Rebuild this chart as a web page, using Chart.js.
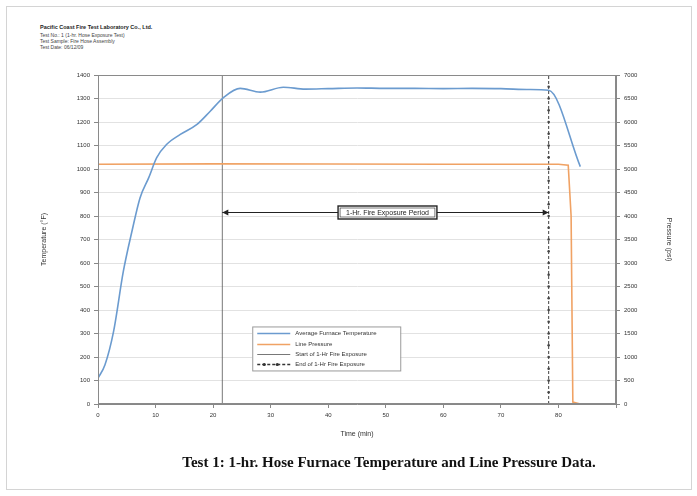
<!DOCTYPE html>
<html>
<head>
<meta charset="utf-8">
<script src="https://cdn.jsdelivr.net/npm/chart.js@4"></script>
<style>
  body { margin: 0; background: #fff; font-family: "Liberation Sans", Arial, sans-serif; }
  #wrap { position: relative; width: 697px; height: 496px; overflow: hidden; }
  #frame { position: absolute; left: 6px; top: 6px; width: 684px; height: 482px; border: 1px solid #d4d4d4; }
  #chart { position: absolute; left: 0; top: 0; }
  .hdr { position: absolute; left: 40px; font-size: 5px; color: #444; white-space: nowrap; }
  #caption { position: absolute; left: 0; width: 778px; top: 454px; text-align: center;
             font-family: "Liberation Serif", "Times New Roman", serif; font-weight: bold; font-size: 15px; color: #111; }
</style>
</head>
<body>
<div id="wrap">
  <div id="frame"></div>
  <div class="hdr" style="top:24px;font-weight:bold;font-size:5.5px;color:#222">Pacific Coast Fire Test Laboratory Co., Ltd.</div>
  <div class="hdr" style="top:32px">Test No.: 1 (1-hr. Hose Exposure Test)</div>
  <div class="hdr" style="top:38px">Test Sample: Fire Hose Assembly</div>
  <div class="hdr" style="top:44px">Test Date: 06/12/09</div>
  <canvas id="chart" width="697" height="496"></canvas>
  <div id="caption">Test 1: 1-hr. Hose Furnace Temperature and Line Pressure Data.</div>
</div>
<script>
// furnace temperature (deg F) vs time (min)
const timeMin = [0, 1.2, 2.7, 4.4, 5.9, 7.3, 8.8, 10.2, 11.9, 14.3, 17.2, 19.5, 21.8, 24.7, 28.2, 32.2, 36, 40, 45, 50, 55, 60, 65, 70, 75, 78.3, 83.8];
const furnaceTemp = [110, 166, 308, 564, 735, 877, 962, 1048, 1104, 1147, 1190, 1246, 1304, 1343, 1327, 1348, 1340, 1342, 1345, 1343, 1343, 1342, 1343, 1342, 1338, 1335, 1010];

// line pressure (psi)
const pressureTime = [0, 20, 40, 60, 80, 81.7, 82.2, 82.5, 83.8];
const linePressure = [5100, 5110, 5105, 5100, 5100, 5080, 4000, 40, 0];

// exposure markers
const exposureStart = 21.6;
const exposureEnd = 78.3;
const startLineTemps = [0, 1400];
const endLineTemps = [0, 50, 100, 150, 200, 250, 300, 350, 400, 450, 500, 550, 600, 650, 700, 750,
  800, 850, 900, 950, 1000, 1050, 1100, 1150, 1200, 1250, 1300, 1350, 1400];
const arrowTemp = 815;
const periodLabel = '1-Hr. Fire Exposure Period';

const seriesNames = ['Average Furnace Temperature', 'Line Pressure', 'Start of 1-Hr Fire Exposure', 'End of 1-Hr Fire Exposure'];

const FONT = '"Liberation Sans", Arial, sans-serif';
const BLUE = '#6b9bcf';
const ORANGE = '#f0a264';

const overlay = {
  id: 'overlay',
  afterDraw(chart) {
    const { ctx, chartArea: a, scales } = chart;
    const x = scales.x, yT = scales.yT;
    ctx.save();

    // plot frame
    ctx.strokeStyle = '#8a8a8a';
    ctx.lineWidth = 1;
    ctx.strokeRect(a.left + 0.5, a.top + 0.5, a.right - a.left - 1, a.bottom - a.top - 1);

    // exposure period arrow
    const ay = Math.round(yT.getPixelForValue(arrowTemp)) + 0.5;
    const x1 = x.getPixelForValue(exposureStart), x2 = x.getPixelForValue(exposureEnd);
    ctx.strokeStyle = '#222';
    ctx.fillStyle = '#222';
    ctx.beginPath(); ctx.moveTo(x1, ay); ctx.lineTo(x2, ay); ctx.stroke();
    [[x1, 1], [x2, -1]].forEach(([px, d]) => {
      ctx.beginPath();
      ctx.moveTo(px, ay); ctx.lineTo(px + 6 * d, ay - 3); ctx.lineTo(px + 6 * d, ay + 3);
      ctx.closePath(); ctx.fill();
    });
    ctx.font = '7px ' + FONT;
    const tw = ctx.measureText(periodLabel).width;
    const bw = tw + 16, bh = 13, bx = (x1 + x2) / 2 - bw / 2 + 2, by = ay - bh / 2;
    ctx.fillStyle = '#fff';
    ctx.fillRect(bx, by, bw, bh);
    ctx.lineWidth = 1.4;
    ctx.strokeRect(bx, by, bw, bh);
    ctx.lineWidth = 0.6;
    ctx.strokeRect(bx + 2, by + 2, bw - 4, bh - 4);
    ctx.fillStyle = '#222';
    ctx.textBaseline = 'middle';
    ctx.fillText(periodLabel, bx + 8, ay + 0.5);

    // legend box
    const lx = x.getPixelForValue(26.8), ly = yT.getPixelForValue(330);
    const lw = 148, lh = 44;
    ctx.fillStyle = '#fff';
    ctx.fillRect(lx, ly, lw, lh);
    ctx.strokeStyle = '#9a9a9a';
    ctx.lineWidth = 1;
    ctx.strokeRect(lx + 0.5, ly + 0.5, lw, lh);
    ctx.font = '6px ' + FONT;
    seriesNames.forEach((name, i) => {
      const ry = Math.round(ly + 7 + i * 10.2) + 0.5;
      ctx.save();
      ctx.lineWidth = 1.3;
      if (i === 0) ctx.strokeStyle = BLUE;
      if (i === 1) ctx.strokeStyle = ORANGE;
      if (i === 2) { ctx.strokeStyle = '#555'; ctx.lineWidth = 0.8; }
      if (i === 3) { ctx.strokeStyle = '#333'; ctx.setLineDash([3, 2]); }
      ctx.beginPath(); ctx.moveTo(lx + 5, ry); ctx.lineTo(lx + 38, ry); ctx.stroke();
      if (i === 3) {
        ctx.fillStyle = '#333';
        [lx + 12, lx + 25].forEach(mx => { ctx.beginPath(); ctx.arc(mx, ry, 1.6, 0, Math.PI * 2); ctx.fill(); });
      }
      ctx.restore();
      ctx.fillStyle = '#333';
      ctx.fillText(name, lx + 43, ry);
    });

    ctx.restore();
  }
};

function fixWidth(w) { return s => { s.width = w; }; }
const plain = v => String(v);

new Chart(document.getElementById('chart'), {
  type: 'line',
  data: {
    datasets: [
      {
        label: seriesNames[0], yAxisID: 'yT',
        data: timeMin.map((t, i) => ({ x: t, y: furnaceTemp[i] })),
        borderColor: BLUE, borderWidth: 1.6, pointRadius: 0, cubicInterpolationMode: 'monotone'
      },
      {
        label: seriesNames[1], yAxisID: 'yP',
        data: pressureTime.map((t, i) => ({ x: t, y: linePressure[i] })),
        borderColor: ORANGE, borderWidth: 1.6, pointRadius: 0, tension: 0
      },
      {
        label: seriesNames[2], yAxisID: 'yT',
        data: startLineTemps.map(v => ({ x: exposureStart, y: v })),
        borderColor: '#555', borderWidth: 0.8, pointRadius: 0
      },
      {
        label: seriesNames[3], yAxisID: 'yT',
        data: endLineTemps.map(v => ({ x: exposureEnd, y: v })),
        borderColor: '#444', borderWidth: 1, borderDash: [3, 2],
        pointRadius: 1.3, pointBackgroundColor: '#444', pointBorderWidth: 0
      }
    ]
  },
  options: {
    responsive: false,
    animation: false,
    events: [],
    layout: { padding: { left: 40, right: 24, top: 75, bottom: 54 } },
    plugins: { legend: { display: false }, tooltip: { enabled: false } },
    scales: {
      x: {
        type: 'linear', min: 0, max: 90,
        afterFit: s => { s.height = 38; },
        ticks: { stepSize: 10, font: { size: 6, family: FONT }, color: '#333', padding: 4,
                 callback: v => v === 90 ? '' : String(v) },
        grid: { drawOnChartArea: false, tickLength: 4, color: '#888' },
        border: { color: '#888' },
        title: { display: true, text: 'Time (min)', font: { size: 7, family: FONT }, color: '#333', padding: { top: 4 } }
      },
      yT: {
        position: 'left', min: 0, max: 1400,
        afterFit: fixWidth(58),
        ticks: { stepSize: 100, font: { size: 6, family: FONT }, color: '#333', padding: 4, callback: plain },
        grid: { color: '#e2e2e2', tickLength: 4, tickColor: '#888' },
        border: { color: '#888' },
        title: { display: true, text: 'Temperature (°F)', font: { size: 7, family: FONT }, color: '#333', padding: 0 }
      },
      yP: {
        position: 'right', min: 0, max: 7000,
        afterFit: fixWidth(57),
        ticks: { stepSize: 500, font: { size: 6, family: FONT }, color: '#333', padding: 4, callback: plain },
        grid: { drawOnChartArea: false, tickLength: 4, color: '#888' },
        border: { color: '#888' },
        title: { display: true, text: 'Pressure (psi)', font: { size: 7, family: FONT }, color: '#333', padding: 0 }
      }
    }
  },
  plugins: [overlay]
});
</script>
</body>
</html>
